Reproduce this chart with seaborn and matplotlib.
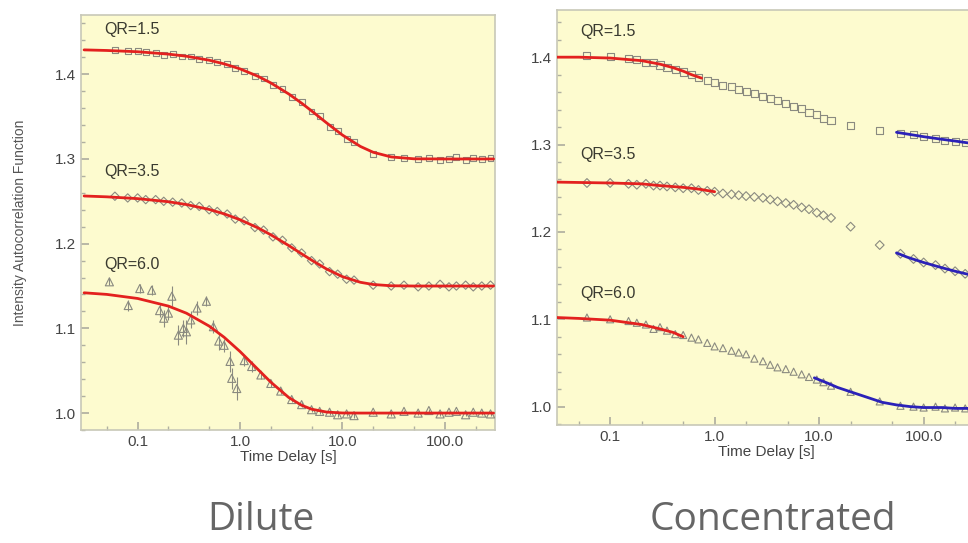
import numpy as np
import pandas as pd
import matplotlib
matplotlib.use("Agg")
import matplotlib.pyplot as plt
from matplotlib.ticker import FixedLocator, FixedFormatter, MultipleLocator
import seaborn as sns

# ---- Dilute : points
t_dil = [0.06, 0.08, 0.1, 0.12, 0.15, 0.18, 0.22, 0.27, 0.33, 0.4, 0.5, 0.6, 0.75, 0.9,
         1.1, 1.4, 1.7, 2.1, 2.6, 3.2, 4, 5, 6, 7.5, 9, 11, 13, 20, 30, 40, 55, 70, 90,
         110, 130, 160, 190, 230, 280]
dil_15 = [1.429, 1.427, 1.428, 1.426, 1.425, 1.423, 1.424, 1.421, 1.421, 1.418, 1.417, 1.414,
          1.412, 1.407, 1.404, 1.398, 1.395, 1.387, 1.383, 1.373, 1.367, 1.356, 1.351, 1.338,
          1.333, 1.324, 1.320, 1.306, 1.302, 1.301, 1.300, 1.301, 1.299, 1.300, 1.302, 1.299,
          1.301, 1.300, 1.301]
dil_35 = [1.256, 1.254, 1.254, 1.252, 1.252, 1.250, 1.249, 1.248, 1.245, 1.244, 1.240, 1.238,
          1.235, 1.229, 1.227, 1.219, 1.216, 1.208, 1.204, 1.195, 1.189, 1.180, 1.176, 1.167,
          1.164, 1.158, 1.157, 1.151, 1.150, 1.151, 1.149, 1.150, 1.152, 1.149, 1.150, 1.151,
          1.149, 1.150, 1.151]
t_dil6 = [0.053, 0.081, 0.105, 0.137, 0.164, 0.18, 0.2, 0.216, 0.25, 0.28, 0.30, 0.33, 0.38,
          0.47, 0.55, 0.62, 0.70, 0.80, 0.83, 0.93, 1.1, 1.3, 1.6, 2.0, 2.5, 3.2, 4.0, 5.0,
          6.0, 7.5, 9, 11, 13, 20, 30, 40, 55, 70, 90, 110, 130, 160, 190, 230, 280]
dil_60 = [1.155, 1.127, 1.147, 1.145, 1.121, 1.112, 1.118, 1.138, 1.092, 1.100, 1.096, 1.110,
          1.124, 1.132, 1.102, 1.085, 1.080, 1.061, 1.041, 1.029, 1.062, 1.055, 1.045, 1.035,
          1.026, 1.016, 1.010, 1.004, 1.002, 1.001, 0.998, 0.999, 0.997, 1.001, 0.999, 1.002,
          1.000, 1.003, 0.999, 1.001, 1.002, 0.998, 1.001, 1.000, 0.999]
err_60 = [0.004, 0.006, 0.005, 0.006, 0.008, 0.010, 0.008, 0.012, 0.012, 0.010, 0.014, 0.010,
          0.008, 0.006, 0.008, 0.010, 0.008, 0.012, 0.012, 0.014, 0.006, 0.006, 0.005, 0.004,
          0.004, 0.003, 0.003, 0.003, 0.003, 0.003, 0.003, 0.003, 0.003, 0.002, 0.002, 0.002,
          0.002, 0.002, 0.002, 0.002, 0.002, 0.002, 0.002, 0.002, 0.002]

# ---- Dilute : fitted curves
t_fit = [0.03, 0.05, 0.1, 0.2, 0.3, 0.5, 0.7, 1, 1.5, 2, 3, 4, 5, 7, 10, 15, 20, 30, 50, 100, 200, 300]
fit_15 = [1.4288, 1.4281, 1.4266, 1.4238, 1.4213, 1.4166, 1.4123, 1.4064, 1.3976, 1.3898, 1.3767,
          1.3659, 1.3568, 1.3427, 1.3283, 1.3148, 1.3079, 1.3024, 1.3002, 1.3, 1.3, 1.3]
fit_35 = [1.2563, 1.2553, 1.2532, 1.2495, 1.2462, 1.2404, 1.2352, 1.2283, 1.2186, 1.2105, 1.1977,
          1.1880, 1.1806, 1.1701, 1.1611, 1.1544, 1.1518, 1.1503, 1.15, 1.15, 1.15, 1.15]
fit_60 = [1.1420, 1.1401, 1.1353, 1.1263, 1.1179, 1.1027, 1.0895, 1.0727, 1.0515, 1.0365, 1.0183,
          1.0092, 1.0046, 1.0012, 1.0001, 1.0, 1.0, 1.0, 1.0, 1.0, 1.0, 1.0]

# ---- Concentrated : points
t_con = [0.06, 0.1, 0.15, 0.18, 0.22, 0.26, 0.3, 0.35, 0.42, 0.5, 0.6, 0.7, 0.85, 1.0, 1.2,
         1.45, 1.7, 2.0, 2.4, 2.9, 3.4, 4.0, 4.8, 5.7, 6.8, 8, 9.5, 11, 13, 20, 38, 60, 80,
         100, 130, 160, 200, 250, 300]
con_15 = [1.402, 1.401, 1.398, 1.397, 1.394, 1.394, 1.391, 1.388, 1.386, 1.383, 1.380, 1.377,
          1.373, 1.371, 1.368, 1.366, 1.363, 1.361, 1.358, 1.355, 1.353, 1.350, 1.347, 1.344,
          1.341, 1.337, 1.334, 1.330, 1.327, 1.322, 1.316, 1.313, 1.311, 1.309, 1.307, 1.305,
          1.304, 1.302, 1.301]
con_35 = [1.256, 1.256, 1.255, 1.254, 1.255, 1.253, 1.253, 1.252, 1.251, 1.250, 1.250, 1.248,
          1.247, 1.246, 1.244, 1.243, 1.242, 1.241, 1.240, 1.239, 1.237, 1.235, 1.233, 1.231,
          1.228, 1.226, 1.222, 1.219, 1.216, 1.206, 1.185, 1.175, 1.169, 1.165, 1.162, 1.158,
          1.155, 1.152, 1.149]
con_60 = [1.102, 1.100, 1.098, 1.096, 1.094, 1.089, 1.091, 1.087, 1.083, 1.082, 1.079, 1.077,
          1.073, 1.069, 1.067, 1.064, 1.062, 1.060, 1.055, 1.052, 1.048, 1.045, 1.043, 1.040,
          1.037, 1.034, 1.031, 1.028, 1.024, 1.017, 1.006, 1.001, 1.000, 0.999, 1.000, 0.998,
          0.999, 0.998, 0.999]

# ---- Concentrated : short-time (red) and long-time (blue) fits
t_red15 = [0.031, 0.05, 0.1, 0.2, 0.3, 0.4, 0.5, 0.6, 0.75]
red_15 = [1.400, 1.400, 1.399, 1.396, 1.392, 1.388, 1.384, 1.380, 1.376]
t_red35 = [0.031, 0.1, 0.2, 0.3, 0.5, 0.7, 1.0]
red_35 = [1.257, 1.256, 1.255, 1.253, 1.251, 1.249, 1.246]
t_red60 = [0.031, 0.05, 0.1, 0.2, 0.3, 0.4, 0.5]
red_60 = [1.102, 1.101, 1.099, 1.094, 1.089, 1.085, 1.080]
t_blue15 = [55, 70, 100, 150, 200, 300, 400]
blue_15 = [1.314, 1.312, 1.309, 1.306, 1.304, 1.301, 1.299]
t_blue35 = [55, 70, 100, 150, 200, 300, 400]
blue_35 = [1.176, 1.171, 1.165, 1.159, 1.155, 1.150, 1.147]
t_blue60 = [9, 12, 15, 20, 30, 40, 55, 75, 100, 150, 200, 300, 400]
blue_60 = [1.033, 1.027, 1.022, 1.017, 1.010, 1.005, 1.002, 1.000, 0.999, 0.999, 0.998, 0.998, 0.998]

qr_labels = ["QR=1.5", "QR=3.5", "QR=6.0"]
xtick_vals = [0.1, 1.0, 10.0, 100.0]
xtick_text = ["0.1", "1.0", "10.0", "100.0"]
ytick_vals = [1.0, 1.1, 1.2, 1.3, 1.4]

sns.set_theme(style="ticks")
plt.rcParams['font.family'] = ['Liberation Sans', 'DejaVu Sans']

fig = plt.figure(figsize=(9.68, 5.43), dpi=100)
ax1 = fig.add_axes([0.0837, 0.2081, 0.4277, 0.7643])
ax2 = fig.add_axes([0.5754, 0.2173, 0.4318, 0.7643])

bg = "#fdfbcf"
red = "#e3211f"
blue = "#2b21b8"
mk = dict(facecolor="none", edgecolor="#8a8a80", linewidth=0.8, s=18, legend=False, zorder=3)

for ax in (ax1, ax2):
    ax.set_xscale("log")
    ax.set_facecolor(bg)

# dilute
ax1.errorbar(t_dil6, dil_60, yerr=err_60, fmt="none", ecolor="#8a8a80", elinewidth=0.8, zorder=2)
sns.scatterplot(x=t_dil, y=dil_15, marker="s", ax=ax1, **mk)
sns.scatterplot(x=t_dil, y=dil_35, marker="D", ax=ax1, **mk)
sns.scatterplot(x=t_dil6, y=dil_60, marker="^", ax=ax1, **dict(mk, s=34))
for f in (fit_15, fit_35, fit_60):
    sns.lineplot(x=t_fit, y=f, color=red, lw=2, ax=ax1, zorder=4)

# concentrated
sns.scatterplot(x=t_con, y=con_15, marker="s", ax=ax2, **dict(mk, s=26))
sns.scatterplot(x=t_con, y=con_35, marker="D", ax=ax2, **dict(mk, s=20))
sns.scatterplot(x=t_con, y=con_60, marker="^", ax=ax2, **dict(mk, s=26))
for tt, yy in ((t_red15, red_15), (t_red35, red_35), (t_red60, red_60)):
    sns.lineplot(x=tt, y=yy, color=red, lw=2, ax=ax2, zorder=4)
for tt, yy in ((t_blue15, blue_15), (t_blue35, blue_35), (t_blue60, blue_60)):
    sns.lineplot(x=tt, y=yy, color=blue, lw=2, ax=ax2, zorder=4)

ax1.set_xlim(0.028, 310)
ax1.set_ylim(0.98, 1.47)
ax2.set_xlim(0.031, 310)
ax2.set_ylim(0.979, 1.454)

for ax in (ax1, ax2):
    ax.xaxis.set_major_locator(FixedLocator(xtick_vals))
    ax.xaxis.set_major_formatter(FixedFormatter(xtick_text))
    ax.xaxis.set_minor_locator(FixedLocator([0.05, 0.2, 0.5, 2, 5, 20, 50, 200]))
    ax.xaxis.set_minor_formatter(FixedFormatter([""] * 8))
    ax.yaxis.set_major_locator(FixedLocator(ytick_vals))
    ax.yaxis.set_minor_locator(MultipleLocator(0.02))
    ax.tick_params(which="both", direction="in", color="#b0b0a0", labelcolor="#444444",
                   labelsize=11)
    ax.tick_params(which="major", length=6)
    ax.tick_params(which="minor", length=3)
    for s in ax.spines.values():
        s.set_color("#c8c8b8")
        s.set_linewidth(1.2)
    ax.set_xlabel("Time Delay [s]", fontsize=11, color="#444444", labelpad=1)

ax1.set_ylabel("Intensity Autocorrelation Function", fontsize=10, color="#555555", labelpad=20)
ax2.set_ylabel("")

# curve labels
for ax, ys in ((ax1, (0.964, 0.623, 0.398)), (ax2, (0.947, 0.651, 0.316))):
    for lab, yy in zip(qr_labels, ys):
        ax.text(0.055, yy, lab, transform=ax.transAxes, fontsize=11.5, color="#3a3a30",
                va="center", ha="left")

fig.text(0.270, 0.024, "Dilute", fontsize=28, color="#666666", ha="center",
         va="baseline", family="Open Sans")
fig.text(0.799, 0.024, "Concentrated", fontsize=28, color="#666666", ha="center",
         va="baseline", family="Open Sans")

fig.savefig("out.png", dpi=100, facecolor="white")
